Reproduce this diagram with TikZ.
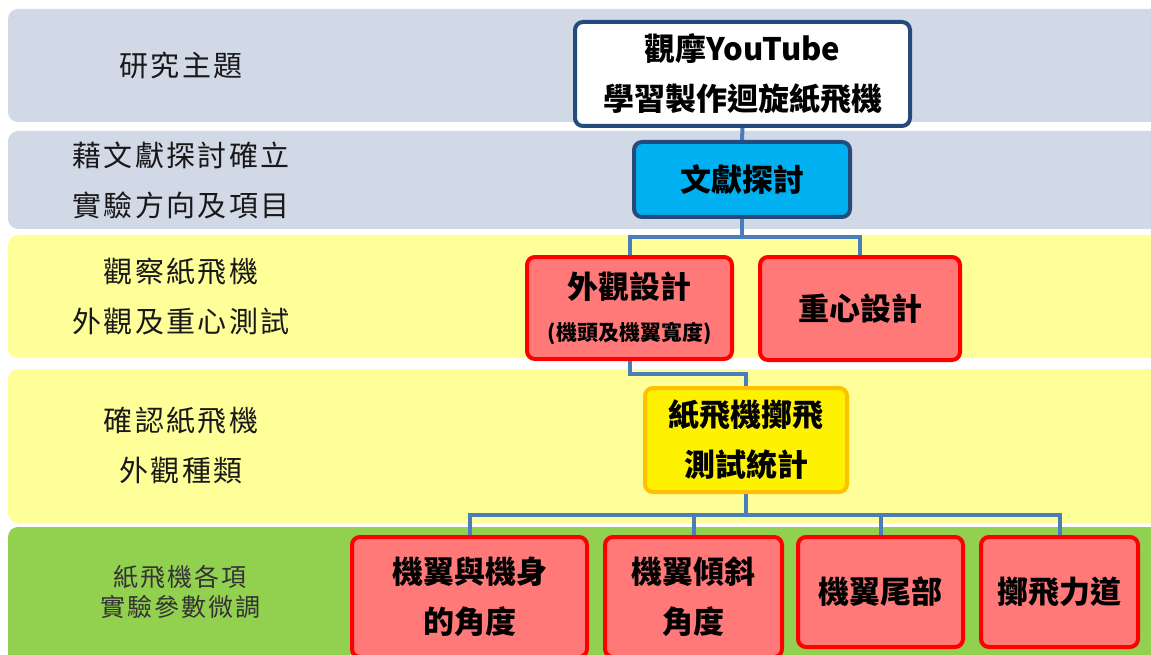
\documentclass[tikz,border=0pt]{standalone}
\usepackage{fontspec}
\setmainfont{Noto Sans CJK TC}
\usetikzlibrary{calc}
\definecolor{bandblue}{HTML}{D1D8E6}
\definecolor{bandyellow}{HTML}{FFFF99}
\definecolor{bandgreen}{HTML}{92D050}
\definecolor{navy}{HTML}{254A7C}
\definecolor{conn}{HTML}{4A7EBB}
\definecolor{salmon}{HTML}{FF7979}
\definecolor{ambr}{HTML}{FFC000}
\definecolor{cyanbox}{HTML}{00B0F0}
\pgfdeclarelayer{bg}
\pgfdeclarelayer{lines}
\pgfsetlayers{bg,lines,main}
\tikzset{
  band/.style={rounded corners=10pt, draw=none},
  box/.style={rounded corners=8pt, line width=4pt, align=center, inner sep=0pt,
    font=\bfseries\fontsize{31}{50}\selectfont},
  navybox/.style={box, draw=navy},
  redbox/.style={box, draw=red, fill=salmon},
  yelbox/.style={box, draw=ambr, fill=yellow},
  conline/.style={draw=conn, line width=4pt},
  lbl/.style={align=center, text=black!90, font=\fontsize{29}{50}\selectfont\addfontfeature{LetterSpace=8}},
}
\begin{document}
\begin{tikzpicture}[x=1pt,y=-1pt]
\useasboundingbox (0,0) rectangle (1151,655);
\clip (0,0) rectangle (1151,655);
\begin{pgfonlayer}{bg}
\fill[white] (0,0) rectangle (1151,655);
\fill[band, bandblue] (8,9) rectangle (1180,122);
\fill[band, bandblue] (8,131) rectangle (1180,229);
\fill[band, bandyellow] (8,235) rectangle (1180,358);
\fill[band, bandyellow] (8,369) rectangle (1180,523);
\fill[band, bandgreen] (8,527) rectangle (1180,700);
\end{pgfonlayer}

% left labels
\node[lbl] (l1) at (181,66) {研究主題};
\node[lbl] (l2) at (181,180) {藉文獻探討確立\\實驗方向及項目};
\node[lbl] (l3) at (181,297) {觀察紙飛機\\外觀及重心測試};
\node[lbl] (l4) at (181,445) {確認紙飛機\\外觀種類};
\node[lbl, text=black!80, font=\fontsize{25}{30}\selectfont\addfontfeature{LetterSpace=8}] (l5) at (180,592) {紙飛機各項\\實驗參數微調};

% boxes
\node[navybox, fill=white, minimum width=335, minimum height=104] (top) at (742.5,74) {觀摩YouTube\\學習製作迴旋紙飛機};
\node[navybox, fill=cyanbox, minimum width=216, minimum height=75] (lit) at (742,179.5) {文獻探討};
\node[redbox, minimum width=205, minimum height=102] (look) at (629.5,308)
  {外觀設計\\[-8pt]{\fontsize{21}{24}\selectfont(機頭及機翼寬度)}};
\node[redbox, minimum width=200, minimum height=103] (cg) at (860,308.5) {重心設計};
\node[yelbox, minimum width=202, minimum height=104] (test) at (746,440) {紙飛機擲飛\\測試統計};
\node[redbox, minimum width=235, minimum height=120] (b1) at (469.5,597) {機翼與機身\\的角度};
\node[redbox, minimum width=177, minimum height=120] (b2) at (693.5,597) {機翼傾斜\\角度};
\node[redbox, minimum width=165, minimum height=110] (b3) at (880.5,592) {機翼尾部};
\node[redbox, minimum width=157, minimum height=110] (b4) at (1059.5,592) {擲飛力道};

% connectors
\coordinate (j1) at (742,237);
\coordinate (j2) at (746,374);
\coordinate (j3) at (746,515);
\begin{pgfonlayer}{lines}
\draw[conline] (top.south) -- (lit.north);
\draw[conline] (lit.south) -- (j1);
\draw[conline] (look.north) |- (j1) -| (cg.north);
\draw[conline] (look.south) |- (j2) -- (test.north);
\draw[conline] (test.south) -- (j3);
\draw[conline] (b1.north) |- (j3) -| (b4.north);
\draw[conline] (b2.north) -- (b2.north |- j3);
\draw[conline] (b3.north) -- (b3.north |- j3);
\end{pgfonlayer}
\end{tikzpicture}
\end{document}
